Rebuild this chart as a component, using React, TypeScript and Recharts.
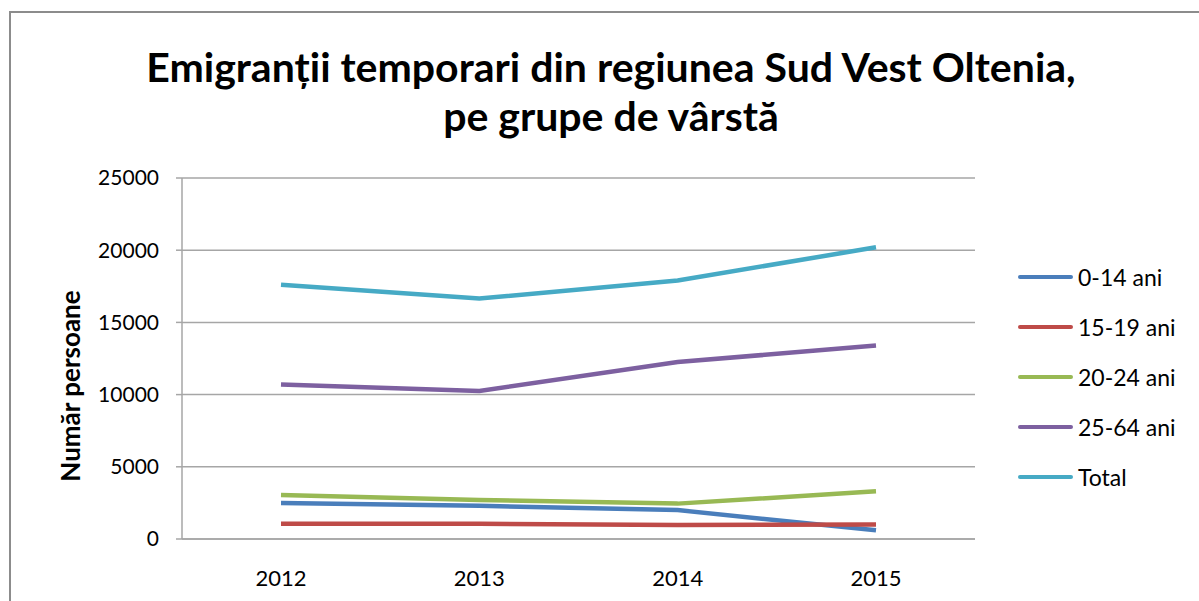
import {
  LineChart,
  Line,
  XAxis,
  YAxis,
  CartesianGrid
} from 'recharts';

const years = ['2012', '2013', '2014', '2015'];
const age0to14 = [2500, 2300, 2000, 600];
const age15to19 = [1050, 1050, 970, 1000];
const age20to24 = [3050, 2700, 2450, 3300];
const age25to64 = [10700, 10250, 12250, 13400];
const total = [17600, 16650, 17900, 20200];
const yTicks = [0, 5000, 10000, 15000, 20000, 25000];

const series = [
  { key: 'a', name: '0-14 ani', values: age0to14, color: '#4a7ebb' },
  { key: 'b', name: '15-19 ani', values: age15to19, color: '#be4b48' },
  { key: 'c', name: '20-24 ani', values: age20to24, color: '#98b954' },
  { key: 'd', name: '25-64 ani', values: age25to64, color: '#7d60a0' },
  { key: 'e', name: 'Total', values: total, color: '#46aac5' }
];

const data = years.map((year, i) => {
  const row: any = { year };
  series.forEach(s => { row[s.key] = s.values[i]; });
  return row;
});

const FONT = 'Lato, "DejaVu Sans", sans-serif';

function LegendBox() {
  return (
    <div style={{ position: 'absolute', left: 1018, top: 252, fontFamily: FONT, fontSize: 23, color: '#000' }}>
      {series.map(s => (
        <div key={s.key} style={{ display: 'flex', alignItems: 'center', height: 50 }}>
          <div style={{ width: 55, height: 4, borderRadius: 2, background: s.color, marginRight: 5 }} />
          <span>{s.name}</span>
        </div>
      ))}
    </div>
  );
}

function YLabel() {
  return (
    <text
      x={70}
      y={386}
      transform="rotate(-90 70 386)"
      textAnchor="middle"
      dominantBaseline="central"
      fontFamily={FONT}
      fontWeight="bold"
      fontSize={26}
      fill="#000"
    >
      Număr persoane
    </text>
  );
}

export default function App() {
  return (
    <div style={{ position: 'absolute', left: 0, top: 0, width: 1199, height: 601, overflow: 'hidden', background: '#fff' }}>
      <div style={{ position: 'absolute', left: 9, top: 11, width: 1300, height: 700, border: '2px solid #8c8c8c' }} />
      <div
        style={{
          position: 'absolute',
          left: 0,
          top: 42,
          width: 1222,
          textAlign: 'center',
          fontFamily: FONT,
          fontWeight: 'bold',
          fontSize: 41,
          lineHeight: '49px',
          color: '#000'
        }}
      >
        Emigranții temporari din regiunea Sud Vest Oltenia,
        <br />
        pe grupe de vârstă
      </div>
      <div style={{ position: 'absolute', left: 0, top: 0 }}>
        <LineChart
          width={1199}
          height={601}
          data={data}
          margin={{ top: 178, right: 224, bottom: 32, left: 122 }}
        >
          <CartesianGrid vertical={false} stroke="#a6a6a6" strokeWidth={1.5} />
          <XAxis
            dataKey="year"
            height={30}
            padding={{ left: 99, right: 99 }}
            axisLine={{ stroke: '#a6a6a6', strokeWidth: 1.5 }}
            tickLine={false}
            tickMargin={25}
            tick={{ fontFamily: FONT, fontSize: 22, fill: '#000' }}
          />
          <YAxis
            width={60}
            domain={[0, 25000]}
            ticks={yTicks}
            interval={0}
            axisLine={{ stroke: '#a6a6a6', strokeWidth: 1.5 }}
            tickLine={{ stroke: '#a6a6a6', strokeWidth: 1.5 }}
            tickSize={6}
            tickMargin={17}
            tick={{ fontFamily: FONT, fontSize: 21, fill: '#000' }}
            label={{ content: () => <YLabel /> }}
          />
          {series.map(s => (
            <Line
              key={s.key}
              dataKey={s.key}
              name={s.name}
              stroke={s.color}
              strokeWidth={4.5}
              dot={false}
              activeDot={false}
              isAnimationActive={false}
            />
          ))}
        </LineChart>
      </div>
      <LegendBox />
    </div>
  );
}
